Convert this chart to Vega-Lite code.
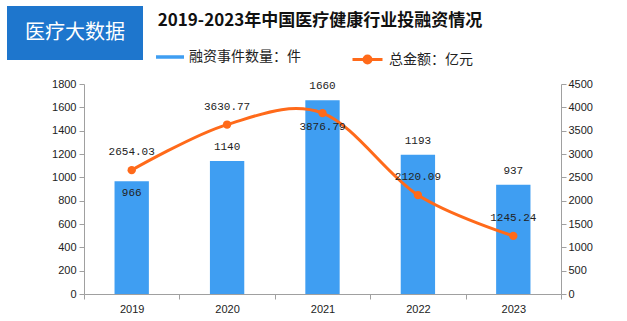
{
  "$schema": "https://vega.github.io/schema/vega-lite/v6.json",
  "padding": {"left": 7, "top": 6, "right": 0, "bottom": 0},
  "background": "white",
  "spacing": 18,
  "vconcat": [
    {
      "spacing": 14,
      "hconcat": [
        {
          "width": 136,
          "height": 54,
          "view": {"fill": "#1e76cd", "stroke": null},
          "data": {"values": [{"t": "医疗大数据"}]},
          "mark": {"type": "text", "color": "white", "fontSize": 20, "font": "Noto Sans CJK SC"},
          "encoding": {"text": {"field": "t"}}
        },
        {
          "width": 318,
          "height": 30,
          "view": {"stroke": null},
          "data": {"values": [{"t": "2019-2023年中国医疗健康行业投融资情况"}]},
          "mark": {"type": "text", "color": "#111", "fontSize": 17, "fontWeight": "bold", "font": "Noto Sans CJK SC"},
          "encoding": {"text": {"field": "t"}}
        }
      ]
    },
    {
      "width": 554,
      "height": 210,
      "view": {"stroke": null},
      "data": {"values": [
        {"year": "2019", "count": 966, "amount": 2654.03},
        {"year": "2020", "count": 1140, "amount": 3630.77},
        {"year": "2021", "count": 1660, "amount": 3876.79},
        {"year": "2022", "count": 1193, "amount": 2120.09},
        {"year": "2023", "count": 937, "amount": 1245.24}
      ]},
      "encoding": {
        "x": {
          "field": "year", "type": "ordinal",
          "scale": {"range": [77, 554], "paddingInner": 0, "paddingOuter": 0},
          "axis": {"title": null, "labelAngle": 0, "tickBand": "extent", "tickSize": 5, "domainColor": "#a0a0a0", "tickColor": "#a0a0a0", "labelPadding": 4, "labelFont": "Liberation Sans", "labelFontSize": 11, "labelColor": "#222"}
        }
      },
      "layer": [
        {
          "encoding": {
            "y": {"field": "count", "type": "quantitative", "scale": {"domain": [0, 1800]},
              "axis": {"orient": "left", "offset": -77, "title": null, "grid": false, "values": [0,200,400,600,800,1000,1200,1400,1600,1800], "format": "d", "labelOverlap": false, "tickSize": 5, "domainColor": "#a0a0a0", "tickColor": "#a0a0a0", "labelPadding": 3, "labelFont": "Liberation Sans", "labelFontSize": 11, "labelColor": "#222"}}
          },
          "layer": [
            {
              "mark": {"type": "bar", "width": {"band": 0.36}},
              "encoding": {
                "fill": {"datum": "融资事件数量：件", "scale": {"range": ["#3f9ef2"]},
                  "legend": {"title": null, "orient": "none", "legendX": 149, "legendY": 37, "symbolType": "M-1,-0.125H1V0.125H-1Z", "symbolSize": 784, "symbolStrokeWidth": 0, "labelFont": "Noto Sans CJK SC", "labelFontSize": 14, "labelColor": "#222", "labelOffset": 5}}
              }
            },
            {
              "transform": [{"filter": "datum.year == '2019'"}],
              "mark": {"type": "text", "dy": 12, "font": "Liberation Mono", "fontSize": 11, "color": "#222"},
              "encoding": {"text": {"field": "count"}}
            },
            {
              "transform": [{"filter": "datum.year != '2019'"}],
              "mark": {"type": "text", "dy": -14, "font": "Liberation Mono", "fontSize": 11, "color": "#222"},
              "encoding": {"text": {"field": "count"}}
            }
          ]
        },
        {
          "encoding": {
            "y": {"field": "amount", "type": "quantitative", "scale": {"domain": [0, 4500]},
              "axis": {"orient": "right", "title": null, "grid": false, "values": [0,500,1000,1500,2000,2500,3000,3500,4000,4500], "format": "d", "labelOverlap": false, "tickSize": 5, "domainColor": "#a0a0a0", "tickColor": "#a0a0a0", "labelPadding": 2, "labelFont": "Liberation Sans", "labelFontSize": 11, "labelColor": "#222"}}
          },
          "layer": [
            {
              "mark": {"type": "line", "interpolate": "cardinal", "strokeWidth": 3},
              "encoding": {
                "stroke": {"datum": "总金额：亿元", "scale": {"range": ["#ff6a1a"]},
                  "legend": {"title": null, "orient": "none", "legendX": 344, "legendY": 37, "symbolType": "M-1,0H1M-0.23,0A0.23,0.23,0,1,0,0.23,0A0.23,0.23,0,1,0,-0.23,0Z", "symbolSize": 900, "symbolStrokeWidth": 3, "labelFont": "Noto Sans CJK SC", "labelFontSize": 14, "labelColor": "#222", "labelOffset": 5,
                    "encode": {"symbols": {"update": {"fill": {"value": "#ff6a1a"}, "stroke": {"value": "#ff6a1a"}}}}}}
              }
            },
            {
              "mark": {"type": "circle", "size": 70, "opacity": 1, "color": "#ff6a1a"}
            },
            {
              "transform": [{"filter": "datum.year != '2021'"}],
              "mark": {"type": "text", "dy": -18, "font": "Liberation Mono", "fontSize": 11, "color": "#222"},
              "encoding": {"text": {"field": "amount", "format": ".2f"}}
            },
            {
              "transform": [{"filter": "datum.year == '2021'"}],
              "mark": {"type": "text", "dy": 14, "font": "Liberation Mono", "fontSize": 11, "color": "#222"},
              "encoding": {"text": {"field": "amount", "format": ".2f"}}
            }
          ]
        }
      ],
      "resolve": {"scale": {"y": "independent"}}
    }
  ]
}
